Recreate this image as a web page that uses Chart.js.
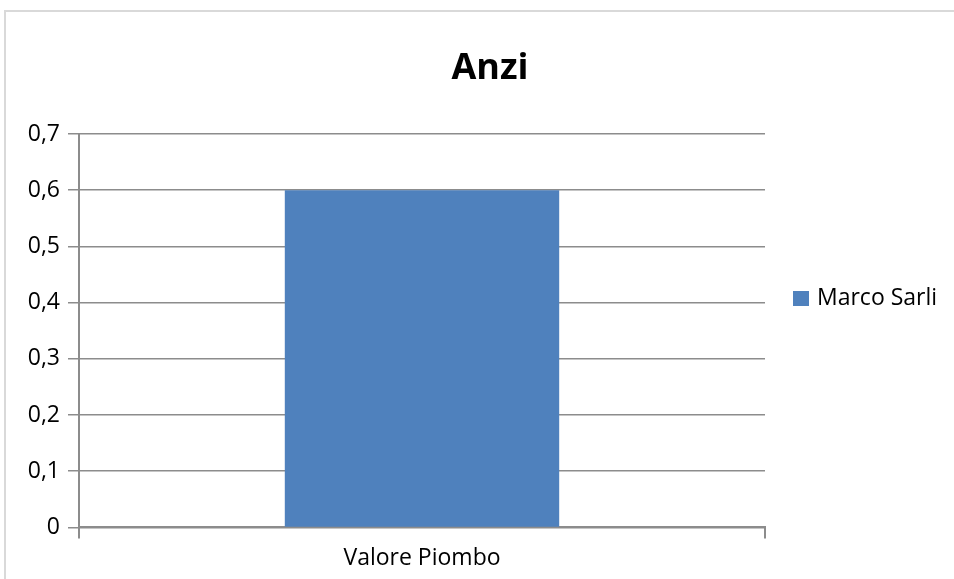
<!DOCTYPE html>
<html>
<head>
<meta charset="utf-8">
<script src="https://cdn.jsdelivr.net/npm/chart.js@4/dist/chart.umd.min.js"></script>
<style>
  html, body { margin: 0; padding: 0; background: #fff; overflow: hidden; }
  .frame { position: absolute; left: 4px; top: 10px; width: 1000px; height: 1000px;
           border: 2px solid #d9d9d9; box-sizing: border-box; }
  .wrap { position: absolute; left: 0; top: 0; width: 954px; height: 579px; }
</style>
</head>
<body>
<div class="frame"></div>
<div class="wrap"><canvas id="c"></canvas></div>
<script>
// Single-category Excel-style column chart.
const chartTitle = "Anzi";
const categories = ["Valore Piombo"];
const seriesName = "Marco Sarli";
const seriesValues = [0.6];
const yTicks = [0, 0.1, 0.2, 0.3, 0.4, 0.5, 0.6, 0.7];

const FONT = "'Open Sans', sans-serif";
const GRID = "#8c8c8c";
const BAR = "#4f81bd";

// title + legend drawn by hand: Excel centres the title on the whole frame
// and puts the legend to the right without shrinking the plot
const sideLegend = {
  id: "sideLegend",
  afterDraw(chart) {
    const g = chart.ctx;
    const ds = chart.data.datasets[0];
    g.save();
    g.fillStyle = "#000";
    g.font = `bold 36px ${FONT}`;
    g.textAlign = "center";
    g.textBaseline = "middle";
    g.fillText(chartTitle, 490, 69);

    g.fillStyle = ds.backgroundColor;
    g.fillRect(793, 291, 16, 15);
    g.fillStyle = "#000";
    g.font = `23px ${FONT}`;
    g.textAlign = "left";
    g.fillText(ds.label, 817, 298);
    g.restore();
  },
};

new Chart(document.getElementById("c"), {
  type: "bar",
  data: {
    labels: categories,
    datasets: [{
      label: seriesName,
      data: seriesValues,
      backgroundColor: BAR,
      borderWidth: 0,
      categoryPercentage: 1,
      barPercentage: 0.4,
    }],
  },
  options: {
    responsive: true,
    maintainAspectRatio: false,
    animation: false,
    layout: { padding: { left: 0, right: 189, top: 134, bottom: 1 } },
    plugins: {
      legend: { display: false },
      tooltip: { enabled: false },
      title: { display: false },
    },
    scales: {
      x: {
        offset: true,
        grid: { display: true, offset: true, drawOnChartArea: false, color: GRID, lineWidth: 2, tickLength: 11 },
        border: { display: true, color: GRID, width: 2 },
        ticks: { color: "#000", padding: 6, font: { family: FONT, size: 23 } },
      },
      y: {
        min: 0,
        max: 0.7,
        afterFit(s) { s.width = 79; },
        afterBuildTicks(s) { s.ticks = yTicks.map(v => ({ value: v })); },
        grid: { color: GRID, lineWidth: 1.5, tickLength: 11 },
        border: { display: true, color: GRID, width: 2 },
        ticks: {
          color: "#000",
          padding: 8,
          font: { family: FONT, size: 23 },
          callback: v => String(Math.round(v * 10) / 10).replace(".", ","),
        },
      },
    },
  },
  plugins: [sideLegend],
});
</script>
</body>
</html>
